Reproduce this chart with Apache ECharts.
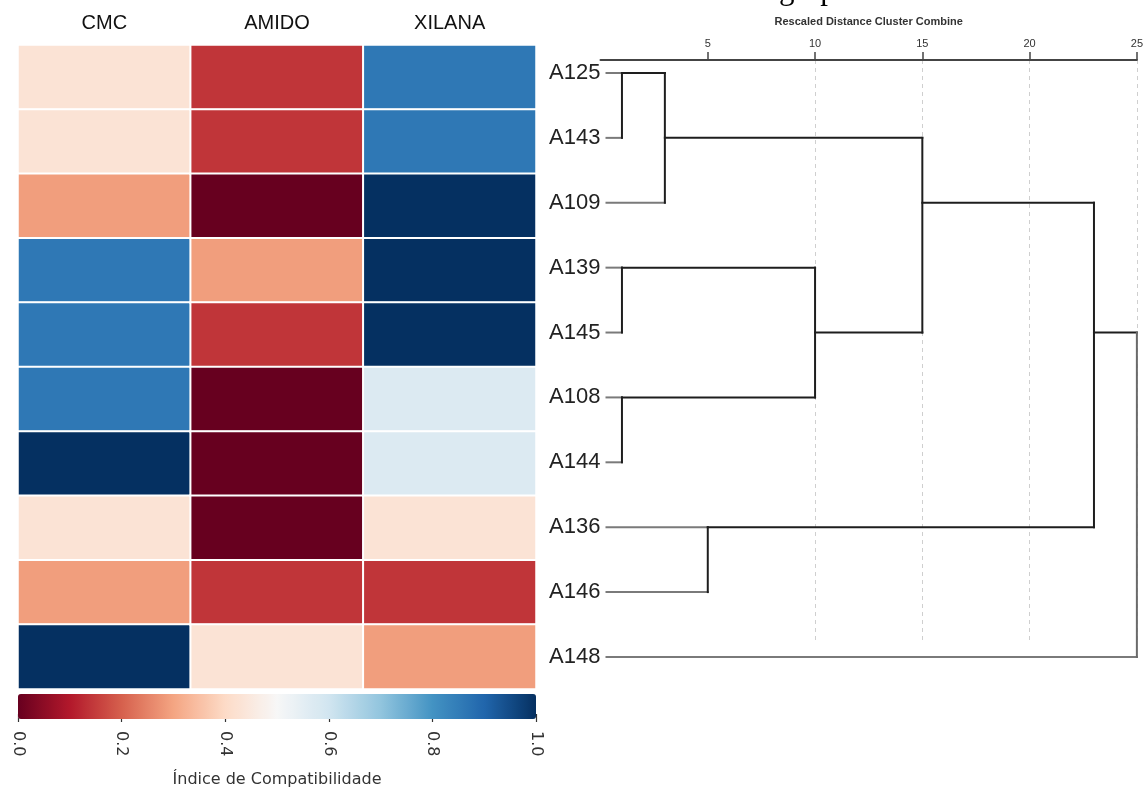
<!DOCTYPE html>
<html>
<head>
<meta charset="utf-8">
<script src="https://cdn.jsdelivr.net/npm/echarts@6/dist/echarts.min.js"></script>
<style>
html,body{margin:0;padding:0;background:#fff;}
#main{width:1146px;height:789px;}
</style>
</head>
<body>
<div id="main"></div>
<script>
// ---------- DATA ----------
const columns = ['CMC', 'AMIDO', 'XILANA'];
const leaves = ['A125', 'A143', 'A109', 'A139', 'A145', 'A108', 'A144', 'A136', 'A146', 'A148'];
const cmc    = [0.43, 0.43, 0.29, 0.86, 0.86, 0.86, 1.00, 0.43, 0.29, 1.00];
const amido  = [0.14, 0.14, 0.00, 0.29, 0.14, 0.00, 0.00, 0.00, 0.14, 0.43];
const xilana = [0.86, 0.86, 1.00, 1.00, 1.00, 0.57, 0.57, 0.43, 0.14, 0.29];
const colorbarTicks = [0, 0.2, 0.4, 0.6, 0.8, 1.0];
// dendrogram merges: [clusterA, clusterB, rescaled distance]; leaves are 0..9, new clusters 10..
const mergeA    = [0, 3, 5, 10, 7, 11, 13, 16, 17];
const mergeB    = [1, 4, 6, 2, 8, 12, 15, 14, 9];
const mergeDist = [1, 1, 1, 3, 5, 10, 15, 23, 25];
const distTicks = [5, 10, 15, 20, 25];

// ---------- BUILD ----------
const valueCols = [cmc, amido, xilana];
const heatData = [];
valueCols.forEach((vals, c) => vals.forEach((v, r) => heatData.push([c, r, v])));

// dendrogram geometry in data space (rows 1..n)
const nodeRow = leaves.map((_, i) => i + 1);
const nodeDist = leaves.map(() => 0);
const segs = []; // [x1, y1, x2, y2, kind] kind: 0 leaf-horizontal, 1 internal, 2 joins a singleton
for (let k = 0; k < mergeA.length; k++) {
  const a = mergeA[k], b = mergeB[k], d = mergeDist[k];
  [a, b].forEach(ch => {
    segs.push([nodeDist[ch], nodeRow[ch], d, nodeRow[ch], ch < leaves.length ? 0 : 1]);
  });
  const last = k === mergeA.length - 1;
  segs.push([d, nodeRow[a], d, nodeRow[b], last ? 2 : 1]);
  nodeRow.push(Math.floor((nodeRow[a] + nodeRow[b]) / 2));
  nodeDist.push(d);
}
const leafItems = leaves.map((name, i) => [0, i + 1, name]);

const rdbu = ['#67001f', '#b2182b', '#d6604d', '#f4a582', '#fddbc7', '#f7f7f7',
              '#d1e5f0', '#92c5de', '#4393c3', '#2166ac', '#053061'];
const segColors = ['#7a7a7a', '#1e1e1e', '#6a6a6a'];

const chart = echarts.init(document.getElementById('main'), null, {renderer: 'canvas'});
const option = {
  backgroundColor: '#ffffff',
  animation: false,
  grid: [
    {left: 18, top: 45, width: 518, height: 644},
    {left: 18, top: 694, width: 518, height: 25},
    {left: 600.5, top: 60, width: 538, height: 584}
  ],
  xAxis: [
    {
      gridIndex: 0, type: 'category', data: columns, position: 'top',
      axisLine: {show: false}, axisTick: {show: false},
      axisLabel: {fontSize: 20, color: '#111', fontFamily: 'Liberation Sans', margin: 12}
    },
    {
      gridIndex: 1, type: 'value', min: 0, max: 1, interval: 0.2, position: 'bottom',
      axisLine: {show: false}, splitLine: {show: false},
      axisTick: {show: true, length: 8, lineStyle: {color: '#333', width: 1.2}},
      axisLabel: {rotate: -90, fontSize: 16, color: '#333', fontFamily: 'DejaVu Sans', margin: 17,
                  formatter: v => v.toFixed(1)},
      name: 'Índice de Compatibilidade', nameLocation: 'middle', nameGap: 58,
      nameTextStyle: {fontSize: 16, color: '#333', fontFamily: 'DejaVu Sans'}
    },
    {
      gridIndex: 2, type: 'value', min: 0, max: 25, interval: 5, position: 'top',
      axisLine: {show: true, lineStyle: {color: '#444', width: 2}},
      axisTick: {show: true, length: 8, customValues: distTicks, lineStyle: {color: '#444', width: 1.5}},
      axisLabel: {customValues: distTicks, fontSize: 11, color: '#333', fontFamily: 'Liberation Sans', margin: 11},
      splitLine: {show: true, showMinLine: false, lineStyle: {color: '#cfcfcf', type: [4, 4], width: 1}},
      name: 'Rescaled Distance Cluster Combine', nameLocation: 'middle', nameGap: 33,
      nameTextStyle: {fontSize: 11, fontWeight: 'bold', color: '#333', fontFamily: 'Liberation Sans'}
    }
  ],
  yAxis: [
    {gridIndex: 0, type: 'category', data: leaves, inverse: true, show: false},
    {gridIndex: 1, type: 'value', min: 0, max: 1, show: false},
    {gridIndex: 2, type: 'value', min: 0.8, max: 9.8, inverse: true, show: false}
  ],
  visualMap: {
    type: 'continuous', min: 0, max: 1, seriesIndex: 0,
    orient: 'horizontal', left: 18, top: 694, itemWidth: 25, itemHeight: 518,
    padding: 0, calculable: false, text: null, showLabel: false, hoverLink: false,
    inRange: {color: rdbu}
  },
  graphic: [
    {type: 'text', x: 779, y: -25, silent: true,
     style: {text: 'grupos', fontSize: 31, fontFamily: 'Liberation Serif', fill: '#000',
             verticalAlign: 'top', lineHeight: 31}}
  ],
  series: [
    {
      type: 'heatmap', xAxisIndex: 0, yAxisIndex: 0, data: heatData,
      itemStyle: {borderColor: '#ffffff', borderWidth: 2},
      emphasis: {disabled: true}
    },
    {
      type: 'custom', xAxisIndex: 2, yAxisIndex: 2, data: segs, clip: false, silent: true,
      renderItem: (params, api) => {
        const p1 = api.coord([api.value(0), api.value(1)]);
        const p2 = api.coord([api.value(2), api.value(3)]);
        const kind = api.value(4);
        if (kind === 0) p1[0] += 6;
        return {
          type: 'line',
          shape: {x1: p1[0], y1: p1[1], x2: p2[0], y2: p2[1]},
          style: {stroke: segColors[kind], lineWidth: 2, lineCap: 'square'}
        };
      }
    },
    {
      type: 'custom', xAxisIndex: 2, yAxisIndex: 2, data: leafItems, clip: false, silent: true,
      renderItem: (params, api) => {
        const p = api.coord([api.value(0), api.value(1)]);
        return {
          type: 'text',
          x: p[0], y: p[1],
          style: {text: leaves[params.dataIndex], fontSize: 22, fontFamily: 'Liberation Sans',
                  fill: '#222', align: 'right', verticalAlign: 'middle'}
        };
      }
    }
  ]
};
chart.setOption(option);
</script>
</body>
</html>
